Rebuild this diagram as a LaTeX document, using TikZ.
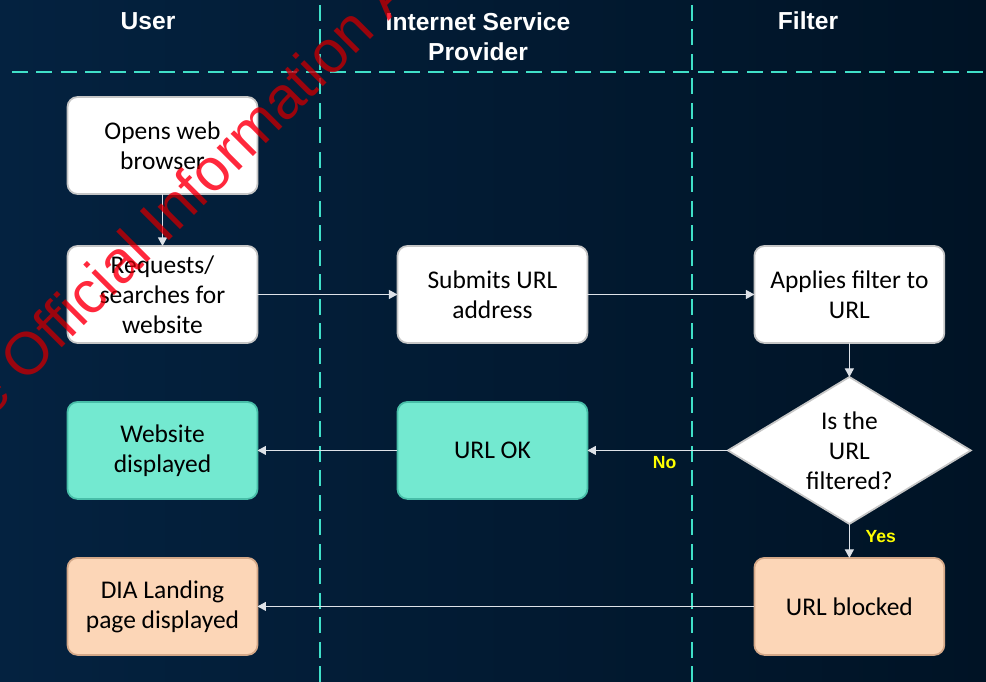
\documentclass[tikz,border=0pt]{standalone}
\usepackage{fontspec}
\setmainfont{Carlito}
\newfontfamily\headfont{Liberation Sans}
\usepackage{tikz}
\usetikzlibrary{positioning, shapes.geometric, arrows.meta}
\definecolor{swBack}{RGB}{4,34,64}
\definecolor{swBackDark}{RGB}{0,19,37}
\definecolor{swLane}{RGB}{64,224,200}
\definecolor{swTeal}{RGB}{115,233,208}
\definecolor{swTealEdge}{RGB}{72,190,168}
\definecolor{swPeach}{RGB}{252,214,183}
\definecolor{swPeachEdge}{RGB}{212,168,136}
\definecolor{swArrow}{RGB}{222,226,232}
\definecolor{swYellow}{RGB}{255,255,0}
\definecolor{swStamp}{RGB}{204,20,30}

\tikzset{
	stepbox/.style={draw=gray!45, line width=1pt, rounded corners=2mm, fill=white, minimum width=3.8cm, minimum height=1.94cm, outer sep=0pt, align=center, text=black, inner sep=2pt, font=\fontsize{14.5}{17}\selectfont},
	okbox/.style={stepbox, fill=swTeal, draw=swTealEdge},
	blockbox/.style={stepbox, fill=swPeach, draw=swPeachEdge},
	decision/.style={diamond, draw=gray!45, line width=1pt, fill=white, minimum width=4.86cm, minimum height=2.94cm, shape aspect=1.65, outer sep=0pt, inner sep=0pt, align=center, font=\fontsize{14.5}{17}\selectfont},
	flow/.style={-{Triangle[length=1.7mm, width=1.8mm]}, swArrow, line width=0.6pt},
	lane/.style={swLane, line width=1.1pt, dash pattern=on 3.2mm off 1.7mm},
	lanehead/.style={text=white, align=center, font=\headfont\bfseries\fontsize{14}{17}\selectfont},
	answer/.style={text=swYellow, inner sep=1pt, font=\headfont\bfseries\fontsize{10}{12}\selectfont},
	stamp/.style={text=swStamp, inner sep=0pt, font=\headfont\fontsize{34}{40}\selectfont}
}

\begin{document}
\begin{tikzpicture}[x=0.02cm, y=-0.02cm]
	\clip (0,0) rectangle (986,682);
	\shade[left color=swBack, right color=swBackDark] (0,0) rectangle (986,682);
	% swim lanes
	\draw[lane] (320,5) -- (320,682);
	\draw[lane] (692,5) -- (692,682);
	\draw[lane] (12,72) -- (986,72);
	\node[lanehead] (user) at (148,21) {User};
	\node[lanehead] (isp) at (478,36.5) {Internet Service\\Provider};
	\node[lanehead] (filter) at (808,21) {Filter};
	% steps
	\node[stepbox] (browser) at (162.5,145.5) {Opens web\\browser};
	\node[stepbox, below=1.04cm of browser] (request) {Requests/\\searches for\\website};
	\node[stepbox, right=2.8cm of request] (submit) {Submits URL\\address};
	\node[stepbox, right=3.34cm of submit] (apply) {Applies filter to\\URL};
	\node[decision, below=0.68cm of apply] (check) {Is the\\URL\\filtered?};
	\node[okbox, below=1.18cm of submit] (urlok) {URL OK};
	\node[okbox, below=1.18cm of request] (shown) {Website\\displayed};
	\node[blockbox, below=1.18cm of shown] (landing) {DIA Landing\\page displayed};
	\node[blockbox, below=0.68cm of check] (blocked) {URL blocked};
	% connectors
	\draw[flow] (browser) -- (request);
	\draw[flow] (request) -- (submit);
	\draw[flow] (submit) -- (apply);
	\draw[flow] (apply) -- (check);
	\draw[flow] (check) -- node[answer, below=0.8mm, pos=0.45] {No} (urlok);
	\draw[flow] (urlok) -- (shown);
	\draw[flow] (check) -- node[answer, right=2.8mm, pos=0.38] {Yes} (blocked);
	\draw[flow] (blocked) -- (landing);
	% watermark
	\begin{scope}[blend mode=hard light]
		\node[stamp, rotate=45, anchor=base west] (oia) at (-45,455) {the Official Information Act};
	\end{scope}
\end{tikzpicture}
\end{document}
